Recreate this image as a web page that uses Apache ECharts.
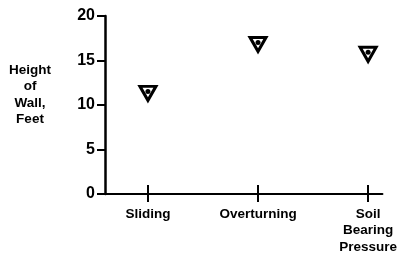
<!DOCTYPE html>
<html>
<head>
<meta charset="utf-8">
<script src="https://cdn.jsdelivr.net/npm/echarts@6/dist/echarts.min.js"></script>
<style>
  html, body { margin: 0; padding: 0; background: #fff; }
  #main { width: 400px; height: 256px; }
</style>
</head>
<body>
<div id="main"></div>
<script>
// failure modes along x, wall height (ft)
const categories = ['Sliding', 'Overturning', 'Soil\nBearing\nPressure']
const catPos = [1, 2, 3]
const heights = [11.3, 16.8, 15.7]
const yTicks = [0, 5, 10, 15, 20]

const points = catPos.map((x, i) => [x, heights[i]])
const font = 'Liberation Sans'

const chart = echarts.init(document.getElementById('main'), null, { renderer: 'canvas' })
chart.setOption({
  animation: false,
  backgroundColor: '#fff',
  grid: { left: 105, right: 17, top: 16, bottom: 62 },
  xAxis: [{
    type: 'value',
    min: 0.61,
    max: 3.13,
    position: 'bottom',
    splitLine: { show: false },
    axisLine: { lineStyle: { color: '#000', width: 2 } },
    axisTick: { customValues: catPos, length: 8, lineStyle: { color: '#000', width: 2 } },
    axisLabel: {
      customValues: catPos,
      formatter: v => categories[catPos.indexOf(Math.round(v))] || '',
      color: '#000', fontFamily: font, fontWeight: 'bold', fontSize: 13.5,
      lineHeight: 16.5, margin: 12
    }
  }, {
    // upper half of the crossing ticks
    type: 'value',
    min: 0.61,
    max: 3.13,
    position: 'bottom',
    splitLine: { show: false },
    axisLine: { show: false },
    axisTick: { customValues: catPos, inside: true, length: 9, lineStyle: { color: '#000', width: 2 } },
    axisLabel: { show: false }
  }],
  yAxis: {
    type: 'value',
    min: yTicks[0],
    max: yTicks[yTicks.length - 1],
    interval: 5,
    splitLine: { show: false },
    axisLine: { show: true, lineStyle: { color: '#000', width: 2.5 } },
    axisTick: { show: true, length: 8, lineStyle: { color: '#000', width: 2 } },
    axisLabel: { color: '#000', fontFamily: font, fontWeight: 'bold', fontSize: 16, margin: 10 }
  },
  graphic: [{
    type: 'text',
    x: 30,
    y: 62,
    style: {
      text: 'Height\nof\nWall,\nFeet',
      align: 'center',
      verticalAlign: 'top',
      fill: '#000',
      font: 'bold 13.5px "Liberation Sans"',
      lineHeight: 16.5
    }
  }],
  series: [{
    type: 'scatter',
    data: points,
    symbol: 'triangle',
    symbolRotate: 180,
    symbolSize: [16, 14],
    itemStyle: { color: '#fff', borderColor: '#000', borderWidth: 3, opacity: 1 },
    z: 2
  }, {
    type: 'scatter',
    data: points,
    symbol: 'circle',
    symbolSize: 5,
    symbolOffset: [0, -2],
    itemStyle: { color: '#000', opacity: 1 },
    z: 3
  }]
})
</script>
</body>
</html>
